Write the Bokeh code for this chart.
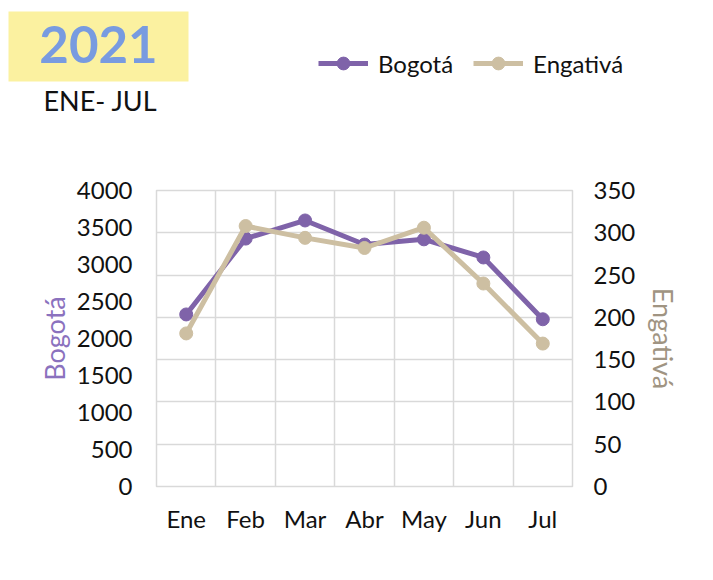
from bokeh.plotting import figure
from bokeh.models import (Range1d, LinearAxis, FixedTicker, Grid, Legend, Label,
                          BoxAnnotation, FactorRange, ColumnDataSource)
from bokeh.embed import file_html
from bokeh.resources import INLINE

months = ["Ene", "Feb", "Mar", "Abr", "May", "Jun", "Jul"]
bogota = [2325, 3350, 3595, 3270, 3340, 3095, 2260]
engativa = [181, 308, 294, 282, 306, 240, 169]
left_ticks = [0, 500, 1000, 1500, 2000, 2500, 3000, 3500, 4000]
right_ticks = [0, 50, 100, 150, 200, 250, 300, 350]

PURPLE = "#7F63A9"
TAN = "#CDBFA2"
FONT = "Lato"
W = 705
HEAD_H = 128

src = ColumnDataSource(data=dict(month=months, bogota=bogota, engativa=engativa))

# ---------------- header (title block + legend) ----------------
head = figure(width=W, height=HEAD_H, x_range=Range1d(0, W),
              y_range=Range1d(HEAD_H, 0), output_backend="svg",
              toolbar_location=None, min_border=0,
              min_border_left=0, min_border_right=0,
              min_border_top=0, min_border_bottom=0,
              x_axis_location=None, y_axis_location=None)
head.grid.visible = False
head.outline_line_color = None
head.background_fill_color = "white"
head.border_fill_color = "white"

head.add_layout(BoxAnnotation(left=8, right=188, top=11, bottom=81,
                              fill_color="#FBF1A0", fill_alpha=1,
                              line_color=None))
head.add_layout(Label(x=98, y=44, text="2021", text_font=FONT,
                      text_font_style="bold", text_font_size="51px",
                      text_color="#789BE0", text_align="center",
                      text_baseline="alphabetic"))
head.add_layout(Label(x=43, y=100, text="ENE- JUL", text_font=FONT,
                      text_font_size="27px", text_color="#111111",
                      text_align="left", text_baseline="alphabetic"))

# legend key renderers: the series values fall outside this header's ranges,
# so only their legend swatches are visible here
hl1 = head.line("bogota", "bogota", source=src, line_color=PURPLE, line_width=5)
hs1 = head.scatter("bogota", "bogota", source=src, size=13,
                   fill_color=PURPLE, line_color=PURPLE)
hl2 = head.line("bogota", "engativa", source=src, line_color=TAN, line_width=5)
hs2 = head.scatter("bogota", "engativa", source=src, size=13,
                   fill_color=TAN, line_color=TAN)
legend = Legend(items=[("Bogotá", [hl1, hs1]), ("Engativá", [hl2, hs2])],
                orientation="horizontal", location=(318, 49),
                glyph_width=50, glyph_height=32, label_standoff=10, spacing=20,
                padding=0, margin=0, border_line_color=None,
                background_fill_alpha=0,
                label_text_font=FONT, label_text_font_size="24px",
                label_text_color="#111111")
head.add_layout(legend, "center")

# ---------------- main chart ----------------
p = figure(width=W, height=572 - HEAD_H, x_range=FactorRange(factors=months),
           y_range=Range1d(0, 4000), output_backend="svg", toolbar_location=None,
           min_border_left=156, min_border_right=W - 572, min_border_top=62,
           min_border_bottom=86)
p.extra_y_ranges = {"eng": Range1d(0, 350)}

p.background_fill_color = "white"
p.border_fill_color = "white"
p.outline_line_color = "#D9D9D9"
p.outline_line_width = 1.5

ax = p.yaxis[0]
ax.ticker = FixedTicker(ticks=left_ticks)
ax.axis_label = "Bogotá"
ax.axis_label_text_color = "#8B72BE"
ax.axis_label_text_font = FONT
ax.axis_label_text_font_style = "normal"
ax.axis_label_text_font_size = "27px"
ax.axis_label_standoff = 3
ax.major_label_text_font = FONT
ax.major_label_text_font_size = "24px"
ax.major_label_text_color = "#111111"
ax.major_label_standoff = 18
ax.axis_line_color = None
ax.major_tick_line_color = None
ax.minor_tick_line_color = None

rax = LinearAxis(y_range_name="eng", ticker=FixedTicker(ticks=right_ticks))
rax.axis_label = "Engativá"
rax.axis_label_text_color = "#A09482"
rax.axis_label_text_font = FONT
rax.axis_label_text_font_style = "normal"
rax.axis_label_text_font_size = "27px"
rax.axis_label_standoff = 9
rax.major_label_text_font = FONT
rax.major_label_text_font_size = "24px"
rax.major_label_text_color = "#111111"
rax.major_label_standoff = 15
rax.axis_line_color = None
rax.major_tick_line_color = None
rax.minor_tick_line_color = None
p.add_layout(rax, "right")

xa = p.xaxis[0]
xa.major_label_text_font = FONT
xa.major_label_text_font_size = "24px"
xa.major_label_text_color = "#111111"
xa.major_label_standoff = 11
xa.axis_line_color = None
xa.major_tick_line_color = None
xa.minor_tick_line_color = None

p.ygrid.visible = False
p.xgrid.visible = False
p.add_layout(Grid(dimension=1, ticker=FixedTicker(ticks=right_ticks),
                  y_range_name="eng", grid_line_color="#D9D9D9",
                  grid_line_width=1.5))
p.add_layout(Grid(dimension=0,
                  ticker=FixedTicker(ticks=list(range(len(months) + 1))),
                  grid_line_color="#D9D9D9", grid_line_width=1.5))

p.line("month", "bogota", source=src, line_color=PURPLE, line_width=5)
p.scatter("month", "bogota", source=src, size=13, fill_color=PURPLE,
          line_color=PURPLE)
p.line("month", "engativa", source=src, line_color=TAN, line_width=5,
       y_range_name="eng")
p.scatter("month", "engativa", source=src, size=13, fill_color=TAN,
          line_color=TAN, y_range_name="eng")

open("out.html", "w").write(file_html([head, p], INLINE))
